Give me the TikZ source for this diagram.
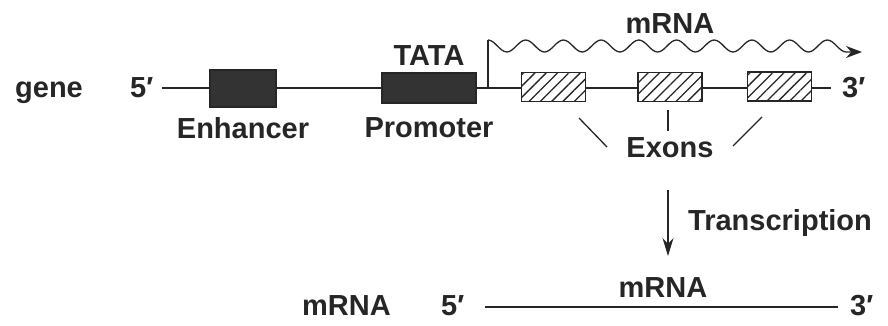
\documentclass[tikz,border=0pt]{standalone}
\usepackage{fontspec}
\setmainfont{Liberation Sans}
\usetikzlibrary{arrows.meta,patterns.meta}
\begin{document}
\begin{tikzpicture}[x=1pt,y=-1pt,
  lbl/.style={font=\fontsize{29}{30}\selectfont\bfseries, text=black!85, inner sep=0pt},
  ln/.style={line width=1.3pt, draw=black!85},
  darkbox/.style={draw=black!85, line width=1.3pt, fill=black!80, inner sep=0pt},
  exonbox/.style={draw=black!85, line width=1.3pt, preaction={fill=white},
     pattern={Lines[angle=45,distance=8pt,line width=1.3pt]}, pattern color=black!85,
     minimum width=64pt, minimum height=29pt, inner sep=0pt},
  arr/.style={ln, -{Stealth[length=18pt,width=11pt]}}]
\useasboundingbox (0,0) rectangle (888,325);
% labels
\node[lbl, anchor=base] (gene) at (49,97) {gene};
\node[lbl, anchor=base west] (p5) at (130,97) {5\char"2032};
\node[lbl, anchor=base west] (p3) at (842,97) {3\char"2032};
% gene line
\coordinate (g5) at (162,88);
\coordinate (g3) at (831,88);
\draw[ln] (g5) -- (g3);
% boxes
\node[darkbox, minimum width=66pt, minimum height=37pt] (enh) at (243,88.5) {};
\node[darkbox, minimum width=94pt, minimum height=30pt] (prom) at (429,88) {};
\node[exonbox] (ex1) at (553.5,87) {};
\node[exonbox] (ex2) at (670,87) {};
\node[exonbox] (ex3) at (779.5,86.5) {};
\node[lbl, anchor=base] (enhl) at (243,138) {Enhancer};
\node[lbl, anchor=base] (proml) at (429,137) {Promoter};
\node[lbl, anchor=base] (tata) at (429,65) {TATA};
% transcription start and wave
\coordinate (tss) at (488,88);
\coordinate (tsstop) at (488,40);
\coordinate (wtip) at (862,52);
\draw[ln] (tss) -- (tsstop);
\draw[ln, -{Stealth[length=16pt,width=12pt]}] (tsstop)
  \foreach \i in {1,...,9} {
     .. controls +(6.86,0) and +(-6.86,0) .. ++(18.85,12)
     .. controls +(6.86,0) and +(-6.86,0) .. ++(18.85,-12) }
     .. controls +(6.86,0) and +(-6.86,0) .. ++(18.85,12) -- (wtip);
\node[lbl, anchor=base] (mrnatop) at (670,33) {mRNA};
% exons label and pointers
\node[lbl, anchor=base] (exons) at (670,157) {Exons};
\coordinate (e1a) at (579,118); \coordinate (e1b) at (607,147);
\coordinate (e2a) at (668,110); \coordinate (e2b) at (668,131);
\coordinate (e3a) at (762,117); \coordinate (e3b) at (733,146);
\draw[ln] (e1a) -- (e1b);
\draw[ln] (e2a) -- (e2b);
\draw[ln] (e3a) -- (e3b);
% transcription arrow
\coordinate (ta) at (668,190);
\coordinate (tb) at (668,256);
\draw[arr] (ta) -- (tb);
\node[lbl, anchor=base west] (trans) at (688,230) {Transcription};
% bottom mRNA
\node[lbl, anchor=base west] (mrnab) at (302,315) {mRNA};
\node[lbl, anchor=base west] (b5) at (441,315) {5\char"2032};
\node[lbl, anchor=base west] (b3) at (850,315) {3\char"2032};
\coordinate (m5) at (485,307);
\coordinate (m3) at (838,307);
\draw[ln] (m5) -- (m3);
\node[lbl, anchor=base] (mrnamid) at (663,297) {mRNA};
\end{tikzpicture}
\end{document}
